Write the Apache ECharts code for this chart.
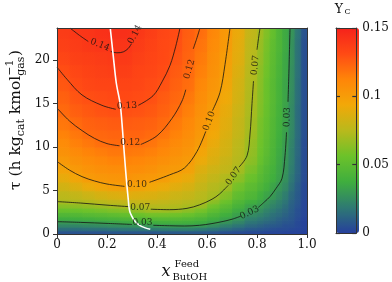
<!DOCTYPE html>
<html><head><meta charset="utf-8">
<script src="https://cdn.jsdelivr.net/npm/echarts@6/dist/echarts.min.js"></script>
<style>html,body{margin:0;padding:0;background:#fff}#c{width:392px;height:282px}</style>
</head><body><div id="c"></div>
<script>
// ---- data ----
const xEdges = [0,0.05,0.1,0.15,0.2,0.25,0.3,0.35,0.4,0.45,0.5,0.55,0.6,0.65,0.7,0.75,0.8,0.825,0.85,0.875,0.9,0.925,0.95,0.975,1.0];
const tauEdges = [0,0.4,0.8,1.2,1.6,2.0,2.5,3.0,3.5,4.0,5,6,7,8,9,10,11,12,13.5,15,16.5,18,19.5,21,22.5,23.7];
// Y_C per x-band (columns), bottom to top in tau
const ycGrid = [
[0.006,0.015,0.023,0.030,0.037,0.045,0.054,0.063,0.071,0.076,0.083,0.090,0.097,0.102,0.106,0.109,0.113,0.117,0.121,0.124,0.127,0.130,0.133,0.136,0.138],
[0.006,0.015,0.023,0.031,0.038,0.046,0.055,0.064,0.072,0.078,0.087,0.096,0.102,0.106,0.110,0.114,0.117,0.121,0.125,0.128,0.131,0.133,0.136,0.138,0.140],
[0.006,0.016,0.024,0.032,0.039,0.048,0.057,0.066,0.073,0.081,0.092,0.101,0.105,0.109,0.113,0.117,0.121,0.124,0.127,0.130,0.133,0.135,0.137,0.140,0.141],
[0.006,0.016,0.025,0.033,0.041,0.049,0.059,0.068,0.075,0.084,0.096,0.103,0.107,0.111,0.115,0.120,0.122,0.125,0.129,0.131,0.134,0.136,0.138,0.141,0.143],
[0.007,0.017,0.026,0.034,0.042,0.051,0.061,0.070,0.077,0.086,0.099,0.104,0.108,0.113,0.117,0.121,0.123,0.126,0.130,0.132,0.134,0.137,0.139,0.141,0.144],
[0.007,0.018,0.027,0.036,0.044,0.053,0.063,0.072,0.078,0.088,0.100,0.105,0.109,0.113,0.117,0.121,0.123,0.126,0.130,0.132,0.134,0.137,0.139,0.141,0.144],
[0.007,0.018,0.028,0.037,0.045,0.055,0.066,0.073,0.079,0.087,0.098,0.103,0.108,0.112,0.116,0.120,0.123,0.125,0.129,0.131,0.133,0.134,0.136,0.138,0.140],
[0.007,0.019,0.029,0.038,0.047,0.058,0.069,0.074,0.079,0.086,0.095,0.102,0.106,0.110,0.114,0.118,0.121,0.124,0.127,0.130,0.131,0.133,0.134,0.135,0.137],
[0.008,0.020,0.030,0.039,0.048,0.058,0.069,0.074,0.078,0.084,0.092,0.100,0.103,0.107,0.111,0.114,0.118,0.121,0.124,0.126,0.129,0.131,0.132,0.132,0.133],
[0.008,0.021,0.031,0.040,0.048,0.057,0.068,0.073,0.076,0.081,0.088,0.095,0.101,0.104,0.107,0.110,0.113,0.116,0.120,0.122,0.124,0.126,0.128,0.130,0.131],
[0.008,0.021,0.031,0.039,0.046,0.055,0.064,0.071,0.074,0.079,0.085,0.091,0.098,0.101,0.104,0.106,0.108,0.111,0.114,0.117,0.120,0.122,0.123,0.124,0.125],
[0.008,0.019,0.030,0.037,0.043,0.051,0.059,0.068,0.072,0.075,0.079,0.083,0.087,0.092,0.096,0.100,0.102,0.104,0.106,0.108,0.111,0.114,0.116,0.118,0.120],
[0.007,0.017,0.026,0.033,0.038,0.044,0.051,0.057,0.064,0.071,0.074,0.078,0.082,0.086,0.088,0.091,0.094,0.097,0.100,0.102,0.104,0.106,0.107,0.109,0.111],
[0.005,0.014,0.021,0.028,0.033,0.038,0.044,0.049,0.055,0.062,0.070,0.073,0.078,0.080,0.083,0.084,0.086,0.088,0.090,0.093,0.096,0.098,0.099,0.101,0.102],
[0.004,0.011,0.017,0.023,0.028,0.032,0.036,0.041,0.045,0.051,0.058,0.065,0.071,0.074,0.075,0.076,0.078,0.079,0.081,0.083,0.084,0.086,0.088,0.089,0.091],
[0.003,0.008,0.013,0.017,0.021,0.025,0.030,0.033,0.038,0.045,0.050,0.055,0.060,0.064,0.066,0.067,0.069,0.070,0.071,0.072,0.073,0.074,0.075,0.076,0.078],
[0.003,0.007,0.011,0.015,0.018,0.022,0.026,0.030,0.034,0.038,0.044,0.048,0.051,0.054,0.056,0.057,0.058,0.059,0.061,0.062,0.063,0.064,0.066,0.067,0.069],
[0.002,0.006,0.009,0.013,0.016,0.019,0.022,0.026,0.029,0.034,0.039,0.043,0.045,0.048,0.050,0.051,0.052,0.053,0.054,0.055,0.055,0.057,0.058,0.059,0.061],
[0.002,0.005,0.008,0.011,0.014,0.016,0.019,0.022,0.025,0.030,0.034,0.038,0.040,0.042,0.043,0.044,0.045,0.046,0.047,0.048,0.048,0.049,0.050,0.051,0.053],
[0.002,0.004,0.007,0.009,0.011,0.014,0.016,0.019,0.021,0.025,0.029,0.033,0.034,0.035,0.036,0.037,0.038,0.039,0.040,0.041,0.041,0.042,0.043,0.044,0.044],
[0.001,0.004,0.005,0.007,0.009,0.011,0.013,0.015,0.017,0.020,0.024,0.027,0.028,0.029,0.030,0.031,0.032,0.033,0.033,0.034,0.034,0.035,0.035,0.036,0.036],
[0.001,0.003,0.005,0.006,0.007,0.008,0.009,0.010,0.011,0.013,0.016,0.018,0.020,0.021,0.021,0.022,0.023,0.024,0.024,0.025,0.026,0.026,0.027,0.027,0.028],
[0.001,0.002,0.003,0.003,0.004,0.005,0.005,0.006,0.007,0.008,0.009,0.011,0.012,0.012,0.013,0.013,0.014,0.014,0.014,0.015,0.015,0.016,0.016,0.016,0.017],
[0.000,0.001,0.001,0.001,0.001,0.002,0.002,0.002,0.002,0.003,0.003,0.004,0.004,0.004,0.004,0.004,0.005,0.005,0.005,0.005,0.005,0.005,0.005,0.005,0.006]
];
// contour lines (segments broken where the inline labels sit), [x, tau]
const contour014 = [
  [[0.052,23.7],[0.09,22.85],[0.125,22.15]],
  [[0.215,21.0],[0.24,20.85],[0.265,20.95],[0.285,21.35],[0.298,21.9]]
];
const contour013 = [
  [[0,19.2],[0.04,17.8],[0.1,16.0],[0.18,14.8],[0.235,14.35]],
  [[0.325,14.8],[0.384,15.9],[0.42,17.5],[0.452,19.4],[0.475,21.6],[0.492,23.7]]
];
const contour012 = [
  [[0,14.5],[0.05,13.0],[0.1,11.9],[0.15,11.0],[0.2,10.4],[0.25,10.15]],
  [[0.335,10.3],[0.4,11.3],[0.46,13.3],[0.5,15.3],[0.515,16.6]],
  [[0.545,21.3],[0.558,22.4],[0.572,23.7]]
];
const contour010 = [
  [[0,8.35],[0.05,7.35],[0.1,6.6],[0.15,6.1],[0.2,5.75],[0.27,5.48]],
  [[0.37,5.95],[0.45,6.8],[0.51,7.6],[0.56,9.5],[0.595,11.8]],
  [[0.622,14.2],[0.652,16.3],[0.672,19.5],[0.692,23.7]]
];
const contour007 = [
  [[0,3.73],[0.1,3.55],[0.2,3.32],[0.29,3.14]],
  [[0.375,2.85],[0.45,2.8],[0.52,2.95],[0.57,3.35],[0.62,4.0],[0.65,4.6],[0.685,5.6]],
  [[0.728,7.7],[0.76,9.0],[0.772,11.5],[0.78,15],[0.786,17.6]],
  [[0.8,21.2],[0.806,22.5],[0.812,23.7]]
];
const contour003 = [
  [[0,1.42],[0.1,1.33],[0.2,1.22],[0.3,1.1]],
  [[0.385,1.0],[0.45,0.95],[0.51,0.92],[0.57,1.0],[0.62,1.2],[0.66,1.42],[0.7,1.7],[0.735,2.05]],
  [[0.805,3.05],[0.83,3.7],[0.852,4.3],[0.875,5.2],[0.9,6.4],[0.912,9.0],[0.918,11.7]],
  [[0.924,15.2],[0.928,19],[0.932,23.7]]
];
const contourLabels = [
  ['0.14',0.172,21.75,-22],['0.14',0.312,22.95,62],
  ['0.13',0.28,14.75,3],
  ['0.12',0.293,10.5,0],['0.12',0.53,18.95,74],
  ['0.10',0.32,5.7,0],['0.10',0.609,13.0,70],
  ['0.07',0.333,3.05,0],['0.07',0.706,6.65,55],['0.07',0.793,19.4,84],
  ['0.03',0.342,1.3,0],['0.03',0.77,2.45,26],['0.03',0.921,13.45,88]
];
const whiteLine = [[0.213,23.7],[0.225,20.5],[0.237,17.4],[0.253,14.9],[0.262,12],[0.268,9.7],[0.274,7.5],[0.28,5.46],[0.285,4],[0.288,3.1],[0.292,2.5],[0.3,2.0],[0.308,1.6],[0.32,1.23],[0.34,0.85],[0.373,0.54]];
const xTicks = [0,0.2,0.4,0.6,0.8,1.0];
const yTicks = [0,5,10,15,20];
const cbTicks = [0,0.05,0.1,0.15];

// ---- chart ----
const SERIF = '"DejaVu Serif", serif';
const nRows = tauEdges.length - 1;
const nCols = xEdges.length - 1;
const cells = [];
for (let i = 0; i < nCols; i++)
  for (let j = 0; j < nRows; j++)
    cells.push([xEdges[i], xEdges[i+1], tauEdges[j], tauEdges[j+1], ycGrid[i][j]]);

// cell shading: blend toward neighbouring cells' mapped colours at the cell edges
function cellRenderer(vertical) {
  return function (params, api) {
    const idx = params.dataIndexInside;
    const i = Math.floor(idx / nRows), j = idx % nRows;
    const p0 = api.coord([api.value(0), api.value(2)]);
    const p1 = api.coord([api.value(1), api.value(3)]);
    const c = api.visual('color');
    let a, b, g;
    if (vertical) {
      a = j < nRows - 1 ? api.visual('color', idx + 1) : c;   // above
      b = j > 0 ? api.visual('color', idx - 1) : c;           // below
      g = {x: 0, y: 0, x2: 0, y2: 1};
    } else {
      a = i > 0 ? api.visual('color', idx - nRows) : c;       // left
      b = i < nCols - 1 ? api.visual('color', idx + nRows) : c; // right
      g = {x: 0, y: 0, x2: 1, y2: 0};
    }
    const fill = Object.assign({type: 'linear', colorStops: [
      {offset: 0, color: echarts.color.lerp(0.5, [a, c])},
      {offset: 0.5, color: c},
      {offset: 1, color: echarts.color.lerp(0.5, [c, b])}
    ]}, g);
    return {type: 'rect', shape: {x: p0[0], y: p1[1], width: p1[0]-p0[0]+0.7, height: p0[1]-p1[1]+0.7},
            style: {fill, opacity: vertical ? 0.5 : 1}};
  };
}
const series = [
  {type: 'custom', xAxisIndex: 0, yAxisIndex: 0, data: cells, clip: true, silent: true, z: 1,
   encode: {x: [0,1], y: [2,3]}, renderItem: cellRenderer(false)},
  {type: 'custom', xAxisIndex: 0, yAxisIndex: 0, data: cells, clip: true, silent: true, z: 2,
   encode: {x: [0,1], y: [2,3]}, renderItem: cellRenderer(true)}
];
[contour014, contour013, contour012, contour010, contour007, contour003].forEach(c => {
  c.forEach(seg => series.push({
    type: 'line', data: seg, symbol: 'none', smooth: 0.35, silent: true, z: 3,
    lineStyle: {color: '#141414', width: 0.8}
  }));
});
series.push({
  type: 'line', data: whiteLine, symbol: 'none', smooth: 0.3, silent: true, z: 4,
  lineStyle: {color: '#ffffff', width: 1.6}
});
series.push({
  type: 'scatter', symbolSize: 0, silent: true, z: 5,
  data: contourLabels.map(l => ({name: l[0], value: [l[1], l[2]], label: {rotate: l[3]}})),
  label: {show: true, position: 'inside', formatter: p => p.name, fontFamily: SERIF, fontSize: 9, color: '#111'}
});

const axisLineStyle = {color: '#333', width: 1};
const lab = {fontFamily: SERIF, fontSize: 12, color: '#111'};

// y-axis title pieces, laid out along the rotated baseline
const mctx = document.createElement('canvas').getContext('2d');
function tw(t, s) { mctx.font = s + 'px "DejaVu Serif"'; return mctx.measureText(t).width; }
const M = 15.5, S = 11;
const yParts = [];
let px = 0;
function add(t, s, dy) { yParts.push({t, s, x: px, dy}); }
add('τ (h kg', M, 0); px += tw('τ (h kg', M);
add('cat', S, 5); px += tw('cat', S);
add(' kmol', M, 0); px += tw(' kmol', M);
add('−1', S, -5.5); add('gas', S, 5); px += Math.max(tw('−1', S), tw('gas', S)) + 0.5;
add(')', M, 0); px += tw(')', M);
const yTitleLen = px;

const option = {
  animation: false,
  grid: [
    {left: 57, top: 28, width: 250, height: 206},
    {left: 336, top: 28, width: 23, height: 205}
  ],
  xAxis: [
    {type: 'value', gridIndex: 0, min: 0, max: 1, interval: 0.2, position: 'bottom', z: 10,
     axisLine: {show: true, lineStyle: axisLineStyle}, splitLine: {show: false},
     axisTick: {show: true, length: 4, lineStyle: axisLineStyle, customValues: xTicks},
     axisLabel: Object.assign({margin: 5, customValues: xTicks, formatter: v => v === 0 ? '0' : v.toFixed(1)}, lab)},
    {type: 'value', gridIndex: 0, min: 0, max: 1, position: 'top', z: 10,
     axisLine: {show: true, onZero: false, lineStyle: axisLineStyle}, axisTick: {show: false}, axisLabel: {show: false}, splitLine: {show: false}},
    {type: 'value', gridIndex: 1, min: 0, max: 1, position: 'bottom', z: 10,
     axisLine: {show: true, onZero: false, lineStyle: axisLineStyle}, axisTick: {show: false}, axisLabel: {show: false}, splitLine: {show: false}},
    {type: 'value', gridIndex: 1, min: 0, max: 1, position: 'top', z: 10,
     axisLine: {show: true, onZero: false, lineStyle: axisLineStyle}, axisTick: {show: false}, axisLabel: {show: false}, splitLine: {show: false}}
  ],
  yAxis: [
    {type: 'value', gridIndex: 0, min: 0, max: 23.7, interval: 5, position: 'left', z: 10,
     axisLine: {show: true, onZero: false, lineStyle: axisLineStyle}, splitLine: {show: false},
     axisTick: {show: true, length: 4, lineStyle: axisLineStyle, customValues: yTicks},
     axisLabel: Object.assign({margin: 7, customValues: yTicks}, lab)},
    {type: 'value', gridIndex: 0, min: 0, max: 23.7, position: 'right', z: 10,
     axisLine: {show: true, onZero: false, lineStyle: axisLineStyle}, axisTick: {show: false}, axisLabel: {show: false}, splitLine: {show: false}},
    {type: 'value', gridIndex: 1, min: 0, max: 0.15, position: 'right', z: 10,
     axisLine: {show: true, onZero: false, lineStyle: axisLineStyle}, splitLine: {show: false},
     axisTick: {show: true, inside: true, length: 4, lineStyle: {color: '#333', width: 1.2}, customValues: cbTicks},
     axisLabel: Object.assign({margin: 6, customValues: cbTicks}, lab)},
    {type: 'value', gridIndex: 1, min: 0, max: 0.15, position: 'left', z: 10,
     axisLine: {show: true, onZero: false, lineStyle: axisLineStyle}, splitLine: {show: false},
     axisTick: {show: true, inside: true, length: 4, lineStyle: {color: '#333', width: 1.2}, customValues: cbTicks},
     axisLabel: {show: false}}
  ],
  visualMap: {
    type: 'continuous', min: 0, max: 0.15, dimension: 4, seriesIndex: [0, 1], calculable: false,
    orient: 'vertical', left: 336, top: 28, itemWidth: 23, itemHeight: 205, padding: 0,
    inRange: {color: ['#26409c', '#2e7a72', '#3fae3e', '#6cc22a', '#b9b91c', '#f2a808', '#ff8508', '#ff4a14', '#f5221b']}
  },
  graphic: [
    {type: 'group', x: 16, y: 120 + yTitleLen / 2, rotation: Math.PI / 2,
     children: yParts.map(p => ({type: 'text', x: p.x, y: p.dy,
       style: {text: p.t, fontFamily: 'DejaVu Serif', fontSize: p.s, fill: '#111', textAlign: 'left', textVerticalAlign: 'middle'}}))},
    {type: 'text', x: 166, y: 272, style: {text: 'x', fontFamily: 'DejaVu Serif', fontStyle: 'italic', fontSize: 16, fill: '#111', textAlign: 'center', textVerticalAlign: 'middle'}},
    {type: 'text', x: 174.5, y: 264.5, style: {text: 'Feed', fontFamily: 'DejaVu Serif', fontSize: 10, fill: '#111', textAlign: 'left', textVerticalAlign: 'middle'}},
    {type: 'text', x: 172.5, y: 277, style: {text: 'ButOH', fontFamily: 'DejaVu Serif', fontSize: 10, fill: '#111', textAlign: 'left', textVerticalAlign: 'middle'}},
    {type: 'text', x: 339, y: 10, style: {text: 'Y', fontFamily: 'DejaVu Serif', fontSize: 12.5, fill: '#111', textAlign: 'center', textVerticalAlign: 'middle'}},
    {type: 'text', x: 344.5, y: 12, style: {text: 'C', fontFamily: 'DejaVu Serif', fontSize: 8, fill: '#111', textAlign: 'left', textVerticalAlign: 'middle'}}
  ],
  series
};
const chart = echarts.init(document.getElementById('c'), null, {renderer: 'canvas'});
chart.setOption(option);
</script>
</body></html>
